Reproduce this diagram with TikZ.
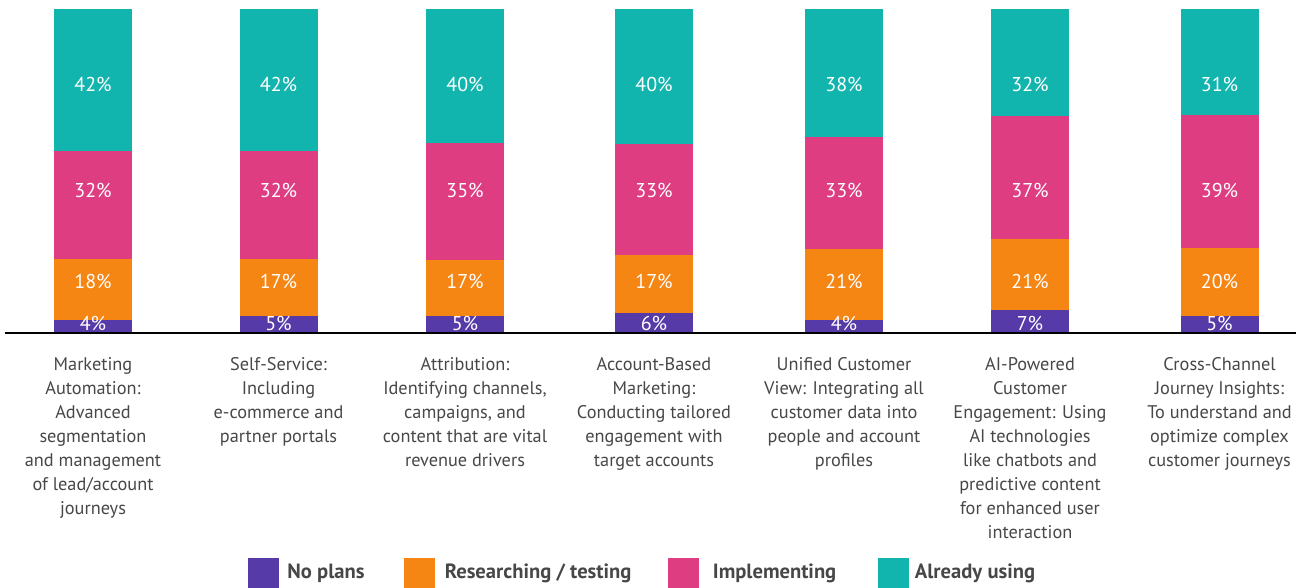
\documentclass[tikz,border=0pt]{standalone}
\usepackage{fontspec}
\setmainfont{PT Sans}
\usetikzlibrary{positioning}

\definecolor{noplans}{HTML}{553AA8}
\definecolor{testing}{HTML}{F68614}
\definecolor{implementing}{HTML}{DE3D82}
\definecolor{using}{HTML}{12B5AE}
\definecolor{labelgray}{HTML}{474747}

\tikzset{
    pct/.style={text=white, font=\fontsize{20}{20}\selectfont, inner sep=0pt},
    catlabel/.style={anchor=north, align=center, text=labelgray, inner sep=0pt,
        font=\fontsize{18.3}{24}\selectfont},
    legbox/.style={minimum width=31pt, minimum height=31pt, inner sep=0pt},
    legtext/.style={anchor=west, text=labelgray, inner sep=0pt,
        font=\bfseries\fontsize{20.6}{20.6}\selectfont}
}

\begin{document}
\begin{tikzpicture}[x=1pt, y=-1pt]

    % Set canvas to the size of the chart
    \useasboundingbox (0,0) rectangle (1307,588);

    % Chart dimensions
    \pgfmathsetmacro{\base}{333}
    \pgfmathsetmacro{\barh}{324}
    \pgfmathsetmacro{\halfw}{39}

    % Draw stacked bars, labels sit on fixed rows
    \foreach \i/\cx/\a/\b/\c/\d in {1/93/4/18/32/42, 2/278.5/5/17/32/42,
            3/465/5/17/35/40, 4/654/6/17/33/40, 5/844/4/21/33/38,
            6/1030/7/21/37/32, 7/1219.5/5/20/39/31} {
        \pgfmathsetmacro{\tot}{\a+\b+\c+\d}
        \pgfmathsetmacro{\ya}{\base-\a/\tot*\barh}
        \pgfmathsetmacro{\yb}{\ya-\b/\tot*\barh}
        \pgfmathsetmacro{\yc}{\yb-\c/\tot*\barh}
        \pgfmathsetmacro{\yd}{\base-\barh}
        \fill[noplans] (\cx-\halfw,\base) rectangle (\cx+\halfw,\ya);
        \fill[testing] (\cx-\halfw,\ya) rectangle (\cx+\halfw,\yb);
        \fill[implementing] (\cx-\halfw,\yb) rectangle (\cx+\halfw,\yc);
        \fill[using] (\cx-\halfw,\yc) rectangle (\cx+\halfw,\yd);
        \node[pct] (p\i-a) at (\cx,323) {\a\%};
        \node[pct] (p\i-b) at (\cx,281) {\b\%};
        \node[pct] (p\i-c) at (\cx,190) {\c\%};
        \node[pct] (p\i-d) at (\cx,84) {\d\%};
    }

    % Draw baseline
    \draw[line width=2.5pt] (5,\base) -- (1296,\base);

    % Draw category labels
    \node[catlabel] (cat1) at (93,357) {Marketing\\Automation:\\Advanced\\segmentation\\and management\\of lead/account\\journeys};
    \node[catlabel] (cat2) at (278.5,357) {Self-Service:\\Including\\e-commerce and\\partner portals};
    \node[catlabel] (cat3) at (465,357) {Attribution:\\Identifying channels,\\campaigns, and\\content that are vital\\revenue drivers};
    \node[catlabel] (cat4) at (654,357) {Account-Based\\Marketing:\\Conducting tailored\\engagement with\\target accounts};
    \node[catlabel] (cat5) at (844,357) {Unified Customer\\View: Integrating all\\customer data into\\people and account\\profiles};
    \node[catlabel] (cat6) at (1030,357) {AI-Powered\\Customer\\Engagement: Using\\AI technologies\\like chatbots and\\predictive content\\for enhanced user\\interaction};
    \node[catlabel] (cat7) at (1219.5,357) {Cross-Channel\\Journey Insights:\\To understand and\\optimize complex\\customer journeys};

    % Draw legend
    \node[legbox, fill=noplans] (leg1) at (263.5,573.5) {};
    \node[legtext, right=8pt of leg1] (legt1) {No plans};
    \node[legbox, fill=testing] (leg2) at (419,573.5) {};
    \node[legtext, right=10pt of leg2] (legt2) {Researching / testing};
    \node[legbox, fill=implementing] (leg3) at (683,573.5) {};
    \node[legtext, right=14pt of leg3] (legt3) {Implementing};
    \node[legbox, fill=using] (leg4) at (893,573.5) {};
    \node[legtext, right=6pt of leg4] (legt4) {Already using};

\end{tikzpicture}
\end{document}
